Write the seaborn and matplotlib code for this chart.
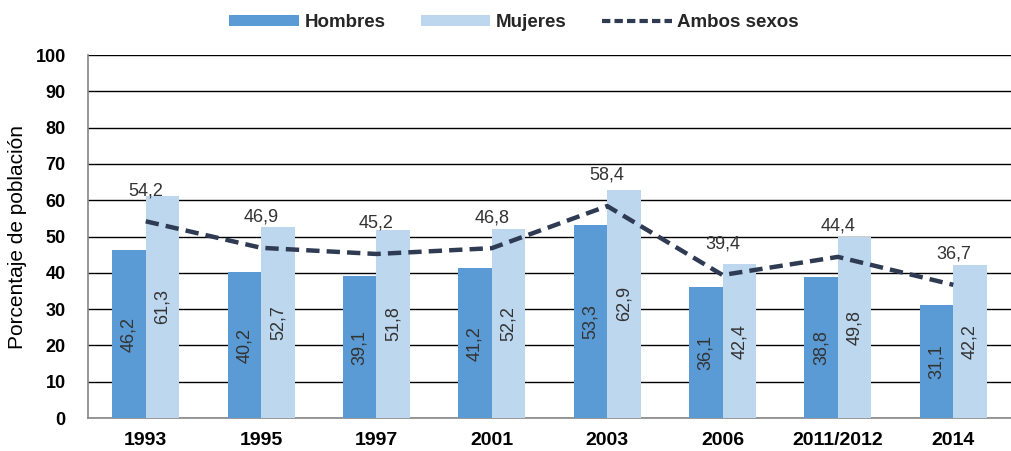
import matplotlib
matplotlib.use("Agg")
import matplotlib.pyplot as plt
import seaborn as sns
import pandas as pd
import numpy as np
from matplotlib.patches import Patch
from matplotlib.lines import Line2D

years = ["1993", "1995", "1997", "2001", "2003", "2006", "2011/2012", "2014"]
hombres = [46.2, 40.2, 39.1, 41.2, 53.3, 36.1, 38.8, 31.1]
mujeres = [61.3, 52.7, 51.8, 52.2, 62.9, 42.4, 49.8, 42.2]
ambos = [54.2, 46.9, 45.2, 46.8, 58.4, 39.4, 44.4, 36.7]

sns.set_theme(style="white")
plt.rcParams['font.family'] = ['Liberation Sans', 'DejaVu Sans']

c_h = "#5B9BD5"
c_m = "#BDD7EE"
c_l = "#2E3B52"

df = pd.DataFrame({
    "year": years * 2,
    "sexo": ["Hombres"] * len(years) + ["Mujeres"] * len(years),
    "valor": hombres + mujeres,
})

fig = plt.figure(figsize=(10.12, 4.51), dpi=100)
ax = fig.add_axes([0.087, 0.073, 0.912, 0.805])

sns.barplot(data=df, x="year", y="valor", hue="sexo", order=years,
            hue_order=["Hombres", "Mujeres"], palette=[c_h, c_m],
            width=0.58, gap=0, saturation=1, ax=ax, legend=False, zorder=3,
            linewidth=0, edgecolor="none")

x = np.arange(len(years))
ax.plot(x, ambos, linestyle=(0, (3, 1.6)), color=c_l, linewidth=3.2, zorder=5)

for cont in ax.containers:
    for bar in cont:
        h = bar.get_height()
        ax.text(bar.get_x() + bar.get_width() / 2, h / 2,
                f"{h:.1f}".replace(".", ","), rotation=90,
                ha="center", va="center", fontsize=13, color="#333333", zorder=6)

for xi, v in zip(x, ambos):
    ax.annotate(f"{v:.1f}".replace(".", ","), (xi, v), xytext=(0, 22),
                textcoords="offset points", ha="center", va="center",
                fontsize=13, color="#333333", zorder=6)

ax.set_ylim(0, 100)
ax.set_yticks(range(0, 101, 10))
ax.set_xlim(-0.5, len(years) - 0.5)
ax.yaxis.grid(True, color="black", linewidth=1)
ax.set_axisbelow(True)
for s in ["top", "right"]:
    ax.spines[s].set_visible(False)
for s in ["left", "bottom"]:
    ax.spines[s].set_color("#888888")
    ax.spines[s].set_linewidth(1.2)
ax.set_xlabel("")
ax.set_ylabel("Porcentaje de población", fontsize=15, color="black", labelpad=6)
ax.tick_params(axis="y", labelsize=13, colors="black", length=0, pad=16)
ax.tick_params(axis="x", labelsize=14, colors="black", length=0, pad=10)
for t in ax.get_xticklabels() + ax.get_yticklabels():
    t.set_fontweight("bold")

handles = [Patch(facecolor=c_h, edgecolor="none", label="Hombres"),
           Patch(facecolor=c_m, edgecolor="none", label="Mujeres"),
           Line2D([0], [0], color=c_l, linestyle=(0, (2, 1)), linewidth=3, label="Ambos sexos")]
leg = fig.legend(handles=handles, loc="center", bbox_to_anchor=(0.508, 0.95), ncol=3,
                 frameon=False, fontsize=13.5, handlelength=3.7, handleheight=0.5,
                 columnspacing=1.9, handletextpad=0.3)
for t in leg.get_texts():
    t.set_fontweight("bold")

fig.savefig("out.png", dpi=100)
